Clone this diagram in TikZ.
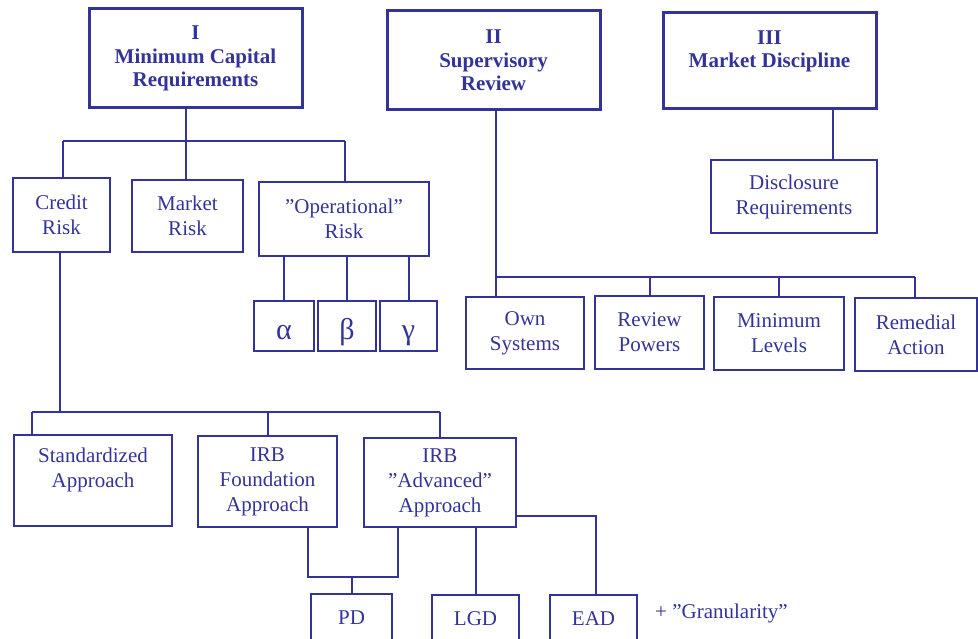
\documentclass[tikz,border=0pt]{standalone}
\usepackage{fontspec}
\setmainfont{Liberation Serif}
\definecolor{bl}{RGB}{51,51,153}
\begin{document}
\begin{tikzpicture}[x=1pt,y=-1pt,
  box/.style={draw=bl, line width=2pt, text=bl, align=center, inner sep=0pt, font=\fontsize{21}{25}\selectfont},
  pillar/.style={box, line width=3pt, font=\bfseries\fontsize{21}{23.5}\selectfont},
  greek/.style={box, text height=28pt, text depth=0pt, font=\fontsize{30}{32}\selectfont},
  conn/.style={draw=bl, line width=2pt}]
\useasboundingbox (0,0) rectangle (978,639);
\clip (0,0) rectangle (978,639);
% pillars
\node[pillar, minimum width=213, minimum height=99] (mcr) at (195.5,58.5) {I\\Minimum Capital\\Requirements};
\node[pillar, minimum width=213, minimum height=99] (sr) at (493.5,60.5) {II\\Supervisory\\Review};
\node[pillar, minimum width=213, minimum height=96] (md) at (769.5,61) {III\\Market Discipline\\\mbox{}};
% pillar I
\node[box, minimum width=97, minimum height=74] (credit) at (61.5,215) {Credit\\Risk};
\node[box, minimum width=111, minimum height=72] (market) at (187.5,216) {Market\\Risk};
\node[box, minimum width=170, minimum height=74] (oper) at (344,219) {”Operational”\\Risk};
\node[greek, minimum width=60, minimum height=50] (alpha) at (284,326) {α};
\node[greek, minimum width=58, minimum height=50] (beta) at (347,326) {β};
\node[greek, minimum width=57, minimum height=50] (gamma) at (408.5,326) {γ};
\node[box, minimum width=158, minimum height=91] (std) at (93,480.5) {Standardized\\Approach\\\mbox{}};
\node[box, minimum width=139, minimum height=91] (found) at (267.5,481.5) {IRB\\Foundation\\Approach};
\node[box, minimum width=152, minimum height=89] (adv) at (440,482.5) {IRB\\”Advanced”\\Approach};
\node[box, minimum width=81, minimum height=48] (pd) at (351.5,618) {PD};
\node[box, minimum width=87, minimum height=47] (lgd) at (475.5,618.5) {LGD};
\node[box, minimum width=87, minimum height=47] (ead) at (593.5,618.5) {EAD};
\node[text=bl, anchor=west, inner sep=0pt, font=\fontsize{21}{24}\selectfont] (gran) at (655,613) {+ ”Granularity”};
% pillar II
\node[box, minimum width=118, minimum height=72] (own) at (525,333) {Own\\Systems};
\node[box, minimum width=109, minimum height=73] (review) at (649.5,332.5) {Review\\Powers};
\node[box, minimum width=130, minimum height=73] (minlev) at (779,333.5) {Minimum\\Levels};
\node[box, minimum width=122, minimum height=73] (remedial) at (916,334.5) {Remedial\\Action};
% pillar III
\node[box, minimum width=166, minimum height=73] (disc) at (794,196.5) {Disclosure\\Requirements};
% bus coordinates
\coordinate (b1) at (186,141);
\coordinate (b1L) at (63,141);
\coordinate (b1R) at (345,141);
\coordinate (cb) at (60,412);
\coordinate (cbL) at (32,412);
\coordinate (cbR) at (440,412);
\coordinate (s2) at (496,277);
\coordinate (s2R) at (915,277);
\coordinate (d3) at (833,135);
\coordinate (f1) at (308,577);
\coordinate (f2) at (398,577);
\coordinate (e1) at (596,516);
% connectors pillar I
\draw[conn] (mcr.south -| b1) -- (b1);
\draw[conn] (b1L) -- (b1R);
\draw[conn] (b1L) -- (credit.north -| b1L);
\draw[conn] (b1) -- (market.north -| b1);
\draw[conn] (b1R) -- (oper.north -| b1R);
\draw[conn] (oper.south -| alpha.north) -- (alpha.north);
\draw[conn] (oper.south -| beta.north) -- (beta.north);
\draw[conn] (oper.south -| gamma.north) -- (gamma.north);
\draw[conn] (credit.south -| cb) -- (cb);
\draw[conn] (cbL) -- (cbR);
\draw[conn] (cbL) -- (std.north -| cbL);
\draw[conn] (found.north |- cbL) -- (found.north);
\draw[conn] (cbR) -- (adv.north -| cbR);
\draw[conn] (found.south -| f1) -- (f1) -- (f2) -- (adv.south -| f2);
\draw[conn] (pd.north |- f1) -- (pd.north);
\draw[conn] (adv.south -| lgd.north) -- (lgd.north);
\draw[conn] (adv.east |- e1) -- (e1) -- (ead.north -| e1);
% connectors pillar II
\draw[conn] (sr.south -| s2) -- (own.north -| s2);
\draw[conn] (s2) -- (s2R);
\draw[conn] (review.north |- s2) -- (review.north);
\draw[conn] (minlev.north |- s2) -- (minlev.north);
\draw[conn] (s2R) -- (remedial.north -| s2R);
% connector pillar III
\draw[conn] (md.south -| d3) -- (disc.north -| d3);
\end{tikzpicture}
\end{document}
